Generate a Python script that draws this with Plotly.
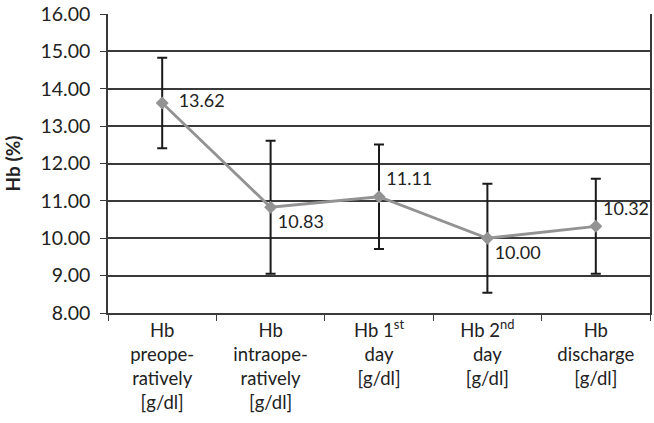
import plotly.graph_objects as go

categories = [
    "Hb<br>preope-<br>ratively<br>[g/dl]",
    "Hb<br>intraope-<br>ratively<br>[g/dl]",
    "Hb 1<sup>st</sup><br>day<br>[g/dl]",
    "Hb 2<sup>nd</sup><br>day<br>[g/dl]",
    "Hb<br>discharge<br>[g/dl]",
]
hb_mean = [13.62, 10.83, 11.11, 10.00, 10.32]
hb_sd = [1.21, 1.78, 1.40, 1.46, 1.27]
y_ticks = [8, 9, 10, 11, 12, 13, 14, 15, 16]
label_pos = ["middle right", "bottom right", "top right", "bottom right", "top right"]

FONT = "Lato"
GRID = "#3a3a3a"

# first label sits a little further from its marker
labels = [f"{v:.2f}" for v in hb_mean]
labels[0] = "\u00a0\u00a0" + labels[0]

fig = go.Figure()
fig.add_trace(
    go.Scatter(
        x=categories,
        y=hb_mean,
        mode="lines+markers+text",
        text=labels,
        textposition=label_pos,
        textfont=dict(family=FONT, size=18, color="#222"),
        line=dict(color="#939393", width=2.8),
        marker=dict(symbol="diamond", size=10, color="#939393"),
        error_y=dict(type="data", array=hb_sd, color="#1a1a1a", thickness=2, width=5),
        showlegend=False,
        cliponaxis=False,
    )
)

fig.update_layout(
    width=654,
    height=423,
    margin=dict(l=108, r=2, t=14, b=110),
    plot_bgcolor="white",
    paper_bgcolor="white",
    font=dict(family=FONT, size=18, color="#222"),
)
fig.update_xaxes(
    type="category",
    range=[-0.5, 4.5],
    tickson="boundaries",
    ticks="outside",
    ticklen=6,
    tickcolor=GRID,
    showgrid=False,
    showline=True,
    linecolor=GRID,
    linewidth=1.5,
    tickfont=dict(size=18.5),
)
fig.update_yaxes(
    range=[8, 16],
    tickvals=y_ticks,
    tickformat=".2f",
    showgrid=True,
    gridcolor=GRID,
    gridwidth=1.5,
    showline=True,
    linecolor=GRID,
    linewidth=1.5,
    mirror=True,
    zeroline=False,
    ticks="outside",
    ticklen=6,
    tickcolor=GRID,
    ticklabelstandoff=6,
    tickfont=dict(size=19.5),
    title=dict(text="<b>Hb (%)</b>", font=dict(size=19)),
)

fig.write_html(
    "out.html",
    config={"displayModeBar": False},
    post_script="document.body.style.margin='0';",
)
